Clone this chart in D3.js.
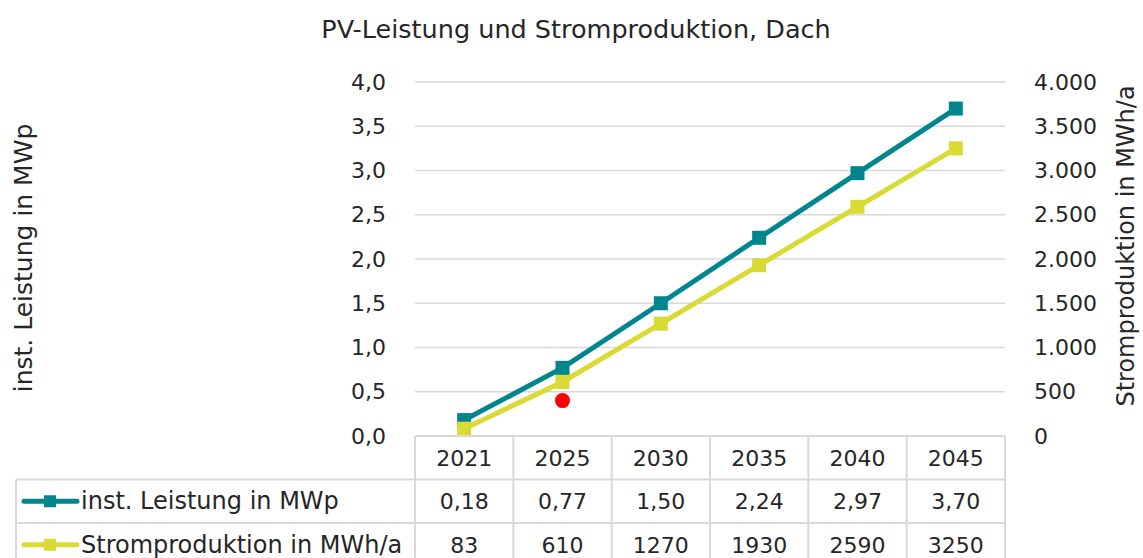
<!DOCTYPE html>
<html><head><meta charset="utf-8">
<script src="https://cdn.jsdelivr.net/npm/d3@7"></script>
<style>body{margin:0;background:#fff}svg{display:block}text{font-family:"DejaVu Sans",sans-serif;fill:#262626}</style>
</head><body><svg id="c" width="1143" height="558"></svg>
<script>
const years = ["2021","2025","2030","2035","2040","2045"];
const leistung = [0.18,0.77,1.50,2.24,2.97,3.70];
const strom = [83,610,1270,1930,2590,3250];
const leistungLabels = ["0,18","0,77","1,50","2,24","2,97","3,70"];
const stromLabels = ["83","610","1270","1930","2590","3250"];
const leftTicks = [0,0.5,1,1.5,2,2.5,3,3.5,4];
const rightTicks = [0,500,1000,1500,2000,2500,3000,3500,4000];
const redDot = [{year:"2025", value:0.4}];
const title = "PV-Leistung und Stromproduktion, Dach";
const leftTitle = "inst. Leistung in MWp";
const rightTitle = "Stromproduktion in MWh/a";
const series = [
  {name:"inst. Leistung in MWp", values:leistung, labels:leistungLabels, color:"#00868C", axis:"left"},
  {name:"Stromproduktion in MWh/a", values:strom, labels:stromLabels, color:"#DADA34", axis:"right"}
];

const FONT = '"DejaVu Sans",sans-serif';
const svg = d3.select("#c");
const L = 415, R = 1005, T = 82, B = 436;
const x = d3.scaleBand().domain(years).range([L,R]);
const yL = d3.scaleLinear().domain([0,4]).range([B,T]);
const yR = d3.scaleLinear().domain([0,4000]).range([B,T]);
const grid = "#D9D9D9";
const fs = 22;

svg.append("text").attr("x",576).attr("y",38).attr("text-anchor","middle").attr("font-size",25.5).text(title);

svg.append("g").selectAll("line").data(leftTicks.filter(d=>d>0)).join("line")
  .attr("x1",L).attr("x2",R).attr("y1",d=>yL(d)).attr("y2",d=>yL(d))
  .attr("stroke",grid).attr("stroke-width",1.5);

const fmtL = d => d3.format(".1f")(d).replace(".",",");
const gl = svg.append("g").attr("transform",`translate(${L-29},0)`)
  .call(d3.axisLeft(yL).tickValues(leftTicks).tickSize(0).tickPadding(0).tickFormat(fmtL));
gl.select(".domain").remove();
gl.selectAll("text").attr("font-size",fs).style("font-family",FONT).attr("fill","#262626");

const fmtR = d => d3.format(",")(d).replace(/,/g,".");
const gr = svg.append("g").attr("transform",`translate(${R+29},0)`)
  .call(d3.axisRight(yR).tickValues(rightTicks).tickSize(0).tickPadding(0).tickFormat(fmtR));
gr.select(".domain").remove();
gr.selectAll("text").attr("font-size",fs).style("font-family",FONT).attr("fill","#262626");

svg.append("text").attr("transform",`translate(32,258) rotate(-90)`).attr("text-anchor","middle").attr("font-size",25).text(leftTitle);
svg.append("text").attr("transform",`translate(1134,246) rotate(-90)`).attr("text-anchor","middle").attr("font-size",24).text(rightTitle);

series.forEach(s=>{
  const y = s.axis==="left"?yL:yR;
  const line = d3.line().x((d,i)=>x(years[i])+x.bandwidth()/2).y(d=>y(d));
  svg.append("path").datum(s.values).attr("d",line).attr("fill","none").attr("stroke",s.color).attr("stroke-width",5);
  svg.append("g").selectAll("rect").data(s.values).join("rect")
    .attr("x",(d,i)=>x(years[i])+x.bandwidth()/2-7).attr("y",d=>y(d)-7)
    .attr("width",14).attr("height",14).attr("fill",s.color);
});

svg.selectAll("circle.red").data(redDot).join("circle").attr("class","red")
  .attr("cx",d=>x(d.year)+x.bandwidth()/2).attr("cy",d=>yL(d.value)).attr("r",7.5).attr("fill","#FF0000");

const rowH = 43.5;
const tl = svg.append("g").attr("stroke",grid).attr("stroke-width",2);
const rows = [B, B+rowH, B+2*rowH, B+3*rowH];
tl.append("line").attr("x1",L).attr("x2",R).attr("y1",rows[0]).attr("y2",rows[0]);
[rows[1],rows[2],rows[3]].forEach(yv=>tl.append("line").attr("x1",16).attr("x2",R).attr("y1",yv).attr("y2",yv));
years.forEach(yr=>tl.append("line").attr("x1",x(yr)).attr("x2",x(yr)).attr("y1",B).attr("y2",558));
tl.append("line").attr("x1",R).attr("x2",R).attr("y1",B).attr("y2",558);
tl.append("line").attr("x1",16).attr("x2",16).attr("y1",rows[1]).attr("y2",558);

svg.append("g").selectAll("text").data(years).join("text")
  .attr("x",d=>x(d)+x.bandwidth()/2).attr("y",B+rowH/2+8).attr("text-anchor","middle").attr("font-size",fs).text(d=>d);

series.forEach((s,si)=>{
  const cy = B+rowH*(si+1)+rowH/2;
  svg.append("line").attr("x1",24).attr("x2",77).attr("y1",cy).attr("y2",cy).attr("stroke",s.color).attr("stroke-width",5).attr("stroke-linecap","round");
  svg.append("rect").attr("x",44).attr("y",cy-6).attr("width",12).attr("height",12).attr("fill",s.color);
  svg.append("text").attr("x",81).attr("y",cy+8).attr("font-size",24).text(s.name);
  svg.append("g").selectAll("text").data(s.labels).join("text")
    .attr("x",(d,i)=>x(years[i])+x.bandwidth()/2).attr("y",cy+8).attr("text-anchor","middle").attr("font-size",fs).text(d=>d);
});
</script></body></html>
